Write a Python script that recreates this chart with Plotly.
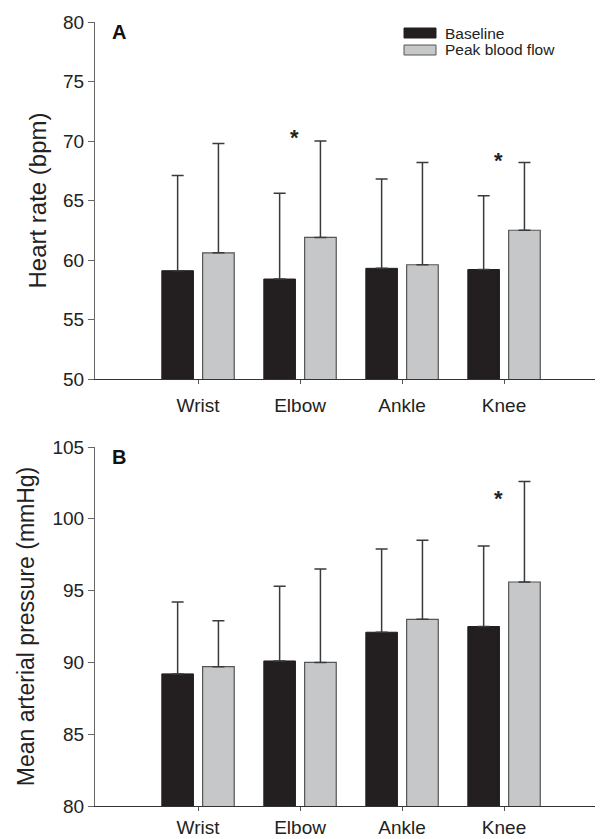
import plotly.graph_objects as go
from plotly.subplots import make_subplots

# ---------------- data ----------------
joints = ["Wrist", "Elbow", "Ankle", "Knee"]

hr_baseline = [59.1, 58.4, 59.3, 59.2]
hr_baseline_sd_top = [67.1, 65.6, 66.8, 65.4]
hr_peak = [60.6, 61.9, 59.6, 62.5]
hr_peak_sd_top = [69.8, 70.0, 68.2, 68.2]

map_baseline = [89.2, 90.1, 92.1, 92.5]
map_baseline_sd_top = [94.2, 95.3, 97.9, 98.1]
map_peak = [89.7, 90.0, 93.0, 95.6]
map_peak_sd_top = [92.9, 96.5, 98.5, 102.6]

# significance markers: (joint, y position of the asterisk)
hr_sig = [("Elbow", 70.3), ("Knee", 68.4)]
map_sig = [("Knee", 101.4)]

series_names = ["Baseline", "Peak blood flow"]

# ---------------- style ----------------
FONT = "Liberation Sans, Arial, Helvetica, sans-serif"
BLACK = "#231f20"
GRAY = "#c6c7c8"
BAR_W = 0.31
OFF_BASE = -0.355
OFF_PEAK = 0.045

W, H = 595, 831          # page has an 8px body margin
L, R, TOP = 87, 0, 14
B_bot = 798
BOT = H - B_bot
pw = W - L - R
ph = H - TOP - BOT

fig = make_subplots(rows=2, cols=1, vertical_spacing=0.0)


def add_panel(row, base, base_top, peak, peak_top):
    fig.add_trace(go.Bar(
        x=joints, y=base, name=series_names[0], width=BAR_W, offset=OFF_BASE,
        marker=dict(color=BLACK, line=dict(color=BLACK, width=1)),
        error_y=dict(type="data", symmetric=False,
                     array=[t - v for t, v in zip(base_top, base)],
                     arrayminus=[0] * len(base),
                     color="#3a3a3a", thickness=1.5, width=6),
        showlegend=False,
    ), row=row, col=1)
    fig.add_trace(go.Bar(
        x=joints, y=peak, name=series_names[1], width=BAR_W, offset=OFF_PEAK,
        marker=dict(color=GRAY, line=dict(color="#555555", width=1.2)),
        error_y=dict(type="data", symmetric=False,
                     array=[t - v for t, v in zip(peak_top, peak)],
                     arrayminus=[0] * len(peak),
                     color="#3a3a3a", thickness=1.5, width=6),
        showlegend=False,
    ), row=row, col=1)


add_panel(1, hr_baseline, hr_baseline_sd_top, hr_peak, hr_peak_sd_top)
add_panel(2, map_baseline, map_baseline_sd_top, map_peak, map_peak_sd_top)

# panel pixel extents (figure coords)
A_top, A_bot = 14, 371
B_top = 439
dA = [(H - BOT - A_bot) / ph, (H - BOT - A_top) / ph]
dB = [(H - BOT - B_bot) / ph, (H - BOT - B_top) / ph]

xcommon = dict(
    type="category", categoryorder="array", categoryarray=joints,
    range=[-1.01, 3.97], showline=True, linecolor="#333333", linewidth=1.2,
    ticks="outside", ticklen=4, tickcolor="#555555", tickwidth=1,
    tickfont=dict(family=FONT, size=19, color="#222222"),
    showgrid=False, zeroline=False, fixedrange=True, automargin=False,
)
ycommon = dict(
    showline=True, linecolor="#666666", linewidth=1,
    ticks="outside", ticklen=6, tickcolor="#666666", tickwidth=1,
    tickfont=dict(family=FONT, size=19, color="#222222"),
    showgrid=False, zeroline=False, automargin=False,
)

fig.update_xaxes(**xcommon, ticklabelstandoff=5, row=1, col=1)
fig.update_xaxes(**xcommon, ticklabelstandoff=0, row=2, col=1)
fig.update_yaxes(**ycommon, range=[50, 80], dtick=5, domain=dA,
                 title=dict(text="Heart rate (bpm)", standoff=9,
                            font=dict(family=FONT, size=24, color="#222222")),
                 row=1, col=1)
fig.update_yaxes(**ycommon, range=[80, 105], dtick=5, domain=dB,
                 title=dict(text="Mean arterial pressure (mmHg)", standoff=11,
                            font=dict(family=FONT, size=23, color="#222222")),
                 row=2, col=1)

annotations = []
# panel letters
for letter, d in (("A", dA), ("B", dB)):
    annotations.append(dict(text="<b>%s</b>" % letter, xref="paper", yref="paper",
                            x=(110 - 8 - L) / pw, y=d[1],
                            xanchor="left", yanchor="top", yshift=3, showarrow=False,
                            font=dict(family=FONT, size=20, color="#111111")))

# significance asterisks
for (j, yv) in hr_sig:
    annotations.append(dict(text="<b>*</b>", x=joints.index(j) - 0.05, y=yv, xref="x", yref="y",
                            showarrow=False, yanchor="middle",
                            font=dict(family=FONT, size=22, color="#222222")))
for (j, yv) in map_sig:
    annotations.append(dict(text="<b>*</b>", x=joints.index(j) - 0.05, y=yv, xref="x2", yref="y2",
                            showarrow=False, yanchor="middle",
                            font=dict(family=FONT, size=22, color="#222222")))

# legend (drawn as swatches + text), positions in page pixels
shapes = []
leg_rows = [(BLACK, BLACK, 33), (GRAY, "#555555", 50)]
for (fc, lc, ypx), name in zip(leg_rows, series_names):
    yc = ypx - 8
    shapes.append(dict(type="rect", xref="paper", yref="paper",
                       x0=(404 - 8 - L) / pw, x1=(436 - 8 - L) / pw,
                       y0=1 - (yc + 5 - TOP) / ph, y1=1 - (yc - 5 - TOP) / ph,
                       fillcolor=fc, line=dict(color=lc, width=1)))
    annotations.append(dict(text=name, xref="paper", yref="paper",
                            x=(443 - 8 - L) / pw, y=1 - (yc - TOP) / ph,
                            xanchor="left", yanchor="middle", showarrow=False,
                            font=dict(family=FONT, size=15.5, color="#222222")))

fig.update_layout(
    width=W, height=H,
    margin=dict(l=L, r=R, t=TOP, b=BOT, autoexpand=False),
    paper_bgcolor="white", plot_bgcolor="white",
    barmode="overlay",
    showlegend=False,
    annotations=annotations,
    shapes=shapes,
    font=dict(family=FONT),
)

fig.write_html("out.html")
